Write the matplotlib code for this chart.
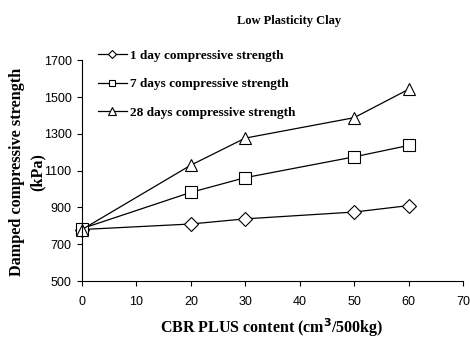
import matplotlib
matplotlib.use("Agg")
import matplotlib.pyplot as plt

content = [0, 20, 30, 50, 60]
day1 = [780, 810, 838, 875, 910]
day7 = [785, 982, 1062, 1175, 1237]
day28 = [780, 1130, 1277, 1388, 1542]
series_labels = ["1 day compressive strength", "7 days compressive strength",
                 "28 days compressive strength"]
xticks = [0, 10, 20, 30, 40, 50, 60, 70]
yticks = [500, 700, 900, 1100, 1300, 1500, 1700]

serif = ["Liberation Serif", "DejaVu Serif"]
sans = ["Liberation Sans", "DejaVu Sans"]

fig = plt.figure(figsize=(4.7, 3.38), dpi=100)
ax = fig.add_axes([0.1745, 0.1686, 0.8105, 0.653])

markers = ["D", "s", "^"]
msizes = [7, 8, 8.5]
for ys, m, ms, lab in zip([day1, day7, day28], markers, msizes, series_labels):
    ax.plot(content, ys, color="black", lw=0.9, marker=m, ms=ms,
            mfc="white", mec="black", mew=0.8, label=lab, clip_on=False)

ax.set_xlim(0, 70)
ax.set_ylim(500, 1700)
ax.set_xticks(xticks)
ax.set_yticks(yticks)
for s in ["top", "right"]:
    ax.spines[s].set_visible(False)
for s in ["left", "bottom"]:
    ax.spines[s].set_linewidth(0.8)
ax.tick_params(direction="out", width=0.8, labelsize=9, length=3.5)
ax.tick_params(axis="x", pad=7.5)
ax.tick_params(axis="y", pad=4)
for t in ax.get_xticklabels() + ax.get_yticklabels():
    t.set_fontfamily(sans)

fig.text(272 / 470, 5 / 338, "CBR PLUS content (cm$^\\mathbf{3}$/500kg)",
         fontfamily=serif, fontweight="bold", fontsize=11.5,
         ha="center", va="baseline")
fig.text(27 / 470, 0.491, "Damped compressive strength\n(kPa)",
         fontfamily=serif, fontweight="bold", fontsize=11.7, rotation=90,
         ha="center", va="center", multialignment="center", linespacing=1.4)

fig.text(0.615, 0.937, "Low Plasticity Clay", fontfamily=serif,
         fontweight="bold", fontsize=9, ha="center", va="center")

leg = ax.legend(loc="upper left", bbox_to_anchor=(0.027, 1.073), frameon=False,
                prop={"family": serif, "weight": "bold", "size": 9.5},
                handlelength=2.2, handletextpad=0.25, labelspacing=1.23,
                borderaxespad=0, markerscale=0.6)

fig.savefig("out.png", dpi=100)
